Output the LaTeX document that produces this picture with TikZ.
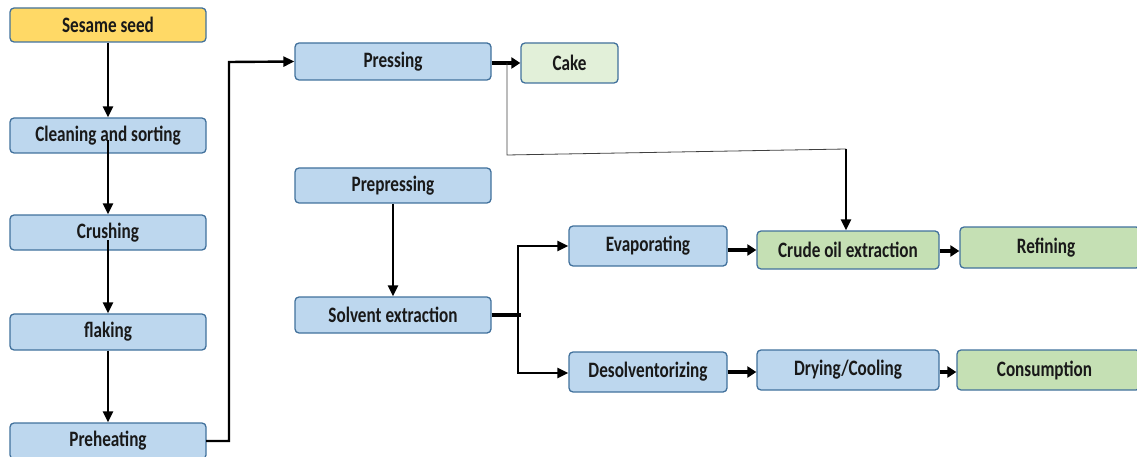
\documentclass[tikz,border=0pt]{standalone}
\usepackage{fontspec}
\setmainfont{Carlito}[FakeStretch=0.78]
\usetikzlibrary{arrows.meta}
\definecolor{bluefill}{HTML}{BDD7EE}
\definecolor{blueedge}{HTML}{41719C}
\definecolor{goldfill}{HTML}{FFD966}
\definecolor{greenfill}{HTML}{C5E0B4}
\definecolor{lightgreen}{HTML}{E2F0D9}
\tikzset{
  box/.style={draw=blueedge, line width=1.3pt, rounded corners=4pt, fill=bluefill,
    inner sep=0pt, font=\fontsize{22}{24}\selectfont\bfseries, text=black!90},
  arr/.style={line width=2.4pt, -{Triangle[length=11pt,width=10pt]}},
  thickarr/.style={line width=4pt, -{Triangle[length=9pt,width=11pt]}},
  thinline/.style={line width=0.8pt, draw=black!75},
}
\newcommand{\bx}[7]{% name, x1, y1, x2, y2, fill, text
  \node[box, fill=#6, minimum width={#4-#2}, minimum height={#5-#3}] (#1) at ({(#2+#4)/2},{(#3+#5)/2}) {#7};}
\begin{document}
\begin{tikzpicture}[x=1pt,y=-1pt]
\useasboundingbox (0,0) rectangle (1137,457);
\begin{scope}
\clip (0,0) rectangle (1137,457);
\bx{seed}{10}{8}{206}{42}{goldfill}{Sesame seed}
\bx{clean}{10}{118}{206}{153}{bluefill}{Cleaning and sorting}
\bx{crush}{10}{215}{206}{250}{bluefill}{Crushing}
\bx{flak}{10}{314}{206}{350}{bluefill}{flaking}
\bx{preh}{10}{423}{206}{459}{bluefill}{}
\node[font=\fontsize{22}{24}\selectfont\bfseries, text=black!90] (prehtext) at (108,441) {Preheating};
\bx{press}{295}{43}{491}{80}{bluefill}{Pressing}
\bx{cake}{521}{43}{618}{83}{lightgreen}{Cake}
\bx{prepress}{295}{168}{491}{203}{bluefill}{Prepressing}
\bx{solv}{295}{297}{491}{333}{bluefill}{Solvent extraction}
\bx{evap}{569}{226}{727}{266}{bluefill}{Evaporating}
\bx{crude}{757}{231}{939}{269}{greenfill}{Crude oil extraction}
\bx{refin}{960}{227}{1140}{268}{greenfill}{\hspace*{-8pt}Refining}
\bx{desolv}{569}{352}{727}{392}{bluefill}{Desolventorizing}
\bx{dry}{757}{350}{939}{390}{bluefill}{Drying/Cooling}
\bx{cons}{957}{350}{1140}{390}{greenfill}{\hspace*{-8pt}Consumption}

\coordinate (c1) at (108,140);
\coordinate (c2) at (108,240);
\draw[arr] (seed.south) -- (clean.north);
\draw[arr] (c1) -- (crush.north);
\draw[arr] (c2) -- (flak.north);
\draw[arr] (flak.south) -- (preh.north);
\draw[arr] (206,441) -- (229,441) -- (229,62) -- (press.west);
\draw[thickarr] (press.east |- 0,63) -- (cake.west |- 0,63);
\coordinate (t1) at (507,63);
\coordinate (t2) at (507,155);
\coordinate (t3) at (846,149);
\draw[thinline] (t1) -- (t2) -- (t3);
\draw[arr] (t3) -- (crude.north -| t3);
\draw[arr] (prepress.south) -- (solv.north);
\coordinate (s1) at (521,315);
\draw[line width=4pt] (solv.east |- s1) -- (s1);
\draw[arr] (518,315) -- (518,246) -- (evap.west |- 0,246);
\draw[arr] (518,315) -- (518,373) -- (desolv.west |- 0,373);
\draw[thickarr] (evap.east |- 0,250) -- (crude.west |- 0,250);
\draw[thickarr] (crude.east |- 0,251) -- (refin.west |- 0,251);
\draw[thickarr] (desolv.east |- 0,372) -- (dry.west |- 0,372);
\draw[thickarr] (dry.east |- 0,372) -- (cons.west |- 0,372);
\end{scope}
\end{tikzpicture}
\end{document}
